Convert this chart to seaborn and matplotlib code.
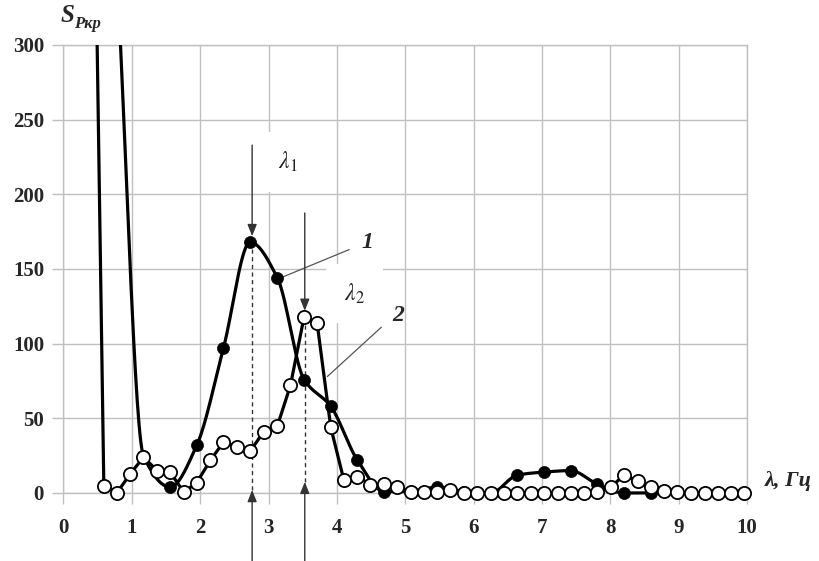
import numpy as np
import pandas as pd
import matplotlib
matplotlib.use("Agg")
import matplotlib.pyplot as plt
import seaborn as sns
from matplotlib.patches import Rectangle

# ---------------- data ----------------
# curve 1 (filled markers)
s1_freq = [0.78, 1.17, 1.56, 1.95, 2.34, 2.73, 3.13, 3.52, 3.91, 4.30, 4.69,
           5.08, 5.47, 5.86, 6.25, 6.64, 7.03, 7.42, 7.81, 8.20, 8.59, 8.98]
s1_vals = [350, 25, 4, 32, 97, 168, 144, 76, 58, 22, 1,
           1, 4, 1, 0, 12, 14, 15, 6, 0, 0, 1]

# curve 2 (open markers)
s2_freq = [0.39, 0.59, 0.78, 0.98, 1.17, 1.37, 1.56, 1.76, 1.95, 2.15,
           2.34, 2.54, 2.73, 2.93, 3.13, 3.32, 3.52, 3.71, 3.91, 4.10,
           4.30, 4.49, 4.69, 4.88, 5.08, 5.27, 5.47, 5.66, 5.86, 6.05,
           6.25, 6.45, 6.64, 6.84, 7.03, 7.23, 7.42, 7.62, 7.81, 8.01,
           8.20, 8.40, 8.59, 8.79, 8.98, 9.18, 9.38, 9.57, 9.77, 9.96]
s2_vals = [610, 5, 0, 13, 24, 15, 14, 0.5, 7, 22,
           34, 31, 28, 41, 45, 72, 118, 114, 44, 9,
           11, 5.5, 6, 4, 1, 0.5, 1, 2, 0, 0,
           0, 0, 0, 0, 0, 0, 0, 0, 0.5, 4,
           12, 8, 4, 1.5, 0.5, 0, 0, 0, 0, 0]

lambda1, lambda1_val = 2.76, 168
lambda2, lambda2_val = 3.53, 118

x_ticks = list(range(0, 11))
y_ticks = [0, 50, 100, 150, 200, 250, 300]

df1 = pd.DataFrame({"f": s1_freq, "S": s1_vals})
df2 = pd.DataFrame({"f": s2_freq, "S": s2_vals})


def pchip_curve(x, y, n=30):
    """Monotone (Fritsch-Carlson) cubic drawn through the points, for a smooth line."""
    x = np.asarray(x, float)
    y = np.asarray(y, float)
    h = np.diff(x)
    m = np.diff(y) / h
    d = np.zeros_like(y)
    for i in range(1, len(y) - 1):
        if m[i - 1] * m[i] > 0:
            w1 = 2 * h[i] + h[i - 1]
            w2 = h[i] + 2 * h[i - 1]
            d[i] = (w1 + w2) / (w1 / m[i - 1] + w2 / m[i])
        else:
            d[i] = 0.0
    d[0] = m[0]
    d[-1] = m[-1]
    xs, ys = [], []
    t = np.linspace(0, 1, n, endpoint=False)
    for i in range(len(h)):
        h00 = 2 * t ** 3 - 3 * t ** 2 + 1
        h10 = t ** 3 - 2 * t ** 2 + t
        h01 = -2 * t ** 3 + 3 * t ** 2
        h11 = t ** 3 - t ** 2
        xs.extend(x[i] + t * h[i])
        ys.extend(h00 * y[i] + h10 * h[i] * d[i] + h01 * y[i + 1] + h11 * h[i] * d[i + 1])
    xs.append(x[-1]); ys.append(y[-1])
    return np.array(xs), np.array(ys)


# ---------------- style ----------------
sns.set_theme(style="white")
plt.rcParams["font.family"] = ["Liberation Serif", "DejaVu Serif"]
plt.rcParams["mathtext.fontset"] = "stix"

fig = plt.figure(figsize=(8.2, 5.61), dpi=100)
ax = fig.add_axes([63.5 / 820, 1 - 493 / 561, (747 - 63.5) / 820, (493 - 45) / 561])

grid_c = "#c0c0c0"
ax.set_xlim(0, 10)
ax.set_ylim(0, 300)
ax.set_xticks(x_ticks)
ax.set_yticks(y_ticks)
ax.grid(True, color=grid_c, lw=1.0)
ax.set_axisbelow(True)
for sp in ax.spines.values():
    sp.set_color(grid_c)
    sp.set_linewidth(1.0)
ax.tick_params(axis="both", which="both", length=8, width=1.0, color=grid_c,
               labelsize=15, bottom=True, left=True)
ax.tick_params(axis="x", pad=10)
ax.tick_params(axis="y", pad=6)
for lab in ax.get_xticklabels() + ax.get_yticklabels():
    lab.set_fontweight("bold")

clip_rect = Rectangle((-0.05, -0.1), 1.1, 1.1, transform=ax.transAxes,
                      facecolor="none", edgecolor="none")
ax.add_patch(clip_rect)

# curve 1: smoothed line with filled markers (drawn first, below curve 2)
sx, sy = pchip_curve(df1["f"], df1["S"])
ax.plot(sx, sy, color="black", lw=2.3, zorder=3)
sns.scatterplot(data=df1, x="f", y="S", ax=ax, color="black", s=75,
                edgecolor="black", linewidth=0.5, zorder=4)
# curve 2: straight segments with open markers
sns.lineplot(data=df2, x="f", y="S", ax=ax, color="black", lw=2.3,
             marker="o", markersize=9.5, markerfacecolor="white",
             markeredgecolor="black", markeredgewidth=1.3, zorder=5)
for art in ax.lines + ax.collections:
    art.set_clip_path(clip_rect)
ax.set_xlabel("")
ax.set_ylabel("")

# ---------------- annotations ----------------
arr = dict(arrowstyle="-|>,head_length=0.5,head_width=0.2", color="#333333",
           lw=1.0, mutation_scale=14, shrinkA=0, shrinkB=0)
ax.annotate("", xy=(lambda1, lambda1_val + 4), xytext=(lambda1, 233), arrowprops=arr)
ax.annotate("", xy=(lambda2, lambda2_val + 4), xytext=(lambda2, 187.5), arrowprops=arr)
a = ax.annotate("", xy=(lambda1, 2), xytext=(lambda1, -46), arrowprops=arr,
                annotation_clip=False)
a.arrow_patch.set_clip_on(False)
b = ax.annotate("", xy=(lambda2, 7.5), xytext=(lambda2, -46), arrowprops=arr,
                annotation_clip=False)
b.arrow_patch.set_clip_on(False)
ax.plot([lambda1, lambda1], [2, lambda1_val - 3], color="#333333", lw=1.0,
        dashes=(3, 2.5), zorder=2)
ax.plot([lambda2, lambda2], [7.5, lambda2_val - 4], color="#333333", lw=1.0,
        dashes=(3, 2.5), zorder=2)

box = dict(boxstyle="square,pad=0.75", facecolor="white", edgecolor="none")
ax.text(3.28, 221.5, r"$\lambda_{\mathit{1}}$", fontsize=17, ha="center", va="center",
        bbox=box, zorder=2.5, color="#222222")
ax.text(4.26, 133.6, r"$\lambda_{\mathit{2}}$", fontsize=17, ha="center", va="center",
        bbox=box, zorder=2.5, color="#222222")

ax.plot([3.12, 4.18], [143, 163], color="#555555", lw=0.9, zorder=2.6)
ax.plot([3.86, 4.65], [78, 111], color="#555555", lw=0.9, zorder=2.6)
ax.text(4.45, 168, "1", fontsize=17, fontweight="bold", fontstyle="italic",
        ha="center", va="center")
ax.text(4.90, 119, "2", fontsize=17, fontweight="bold", fontstyle="italic",
        ha="center", va="center")

ax.text(10.26, 8, "λ, Гц", fontsize=16, fontweight="bold", fontstyle="italic",
        ha="left", va="center", clip_on=False)
fig.text(61 / 820, 1 - 16 / 561, "S", fontsize=18, fontweight="bold",
         fontstyle="italic", ha="left", va="center")
fig.text(74 / 820, 1 - 24 / 561, "Ркр", fontsize=12, fontweight="bold",
         fontstyle="italic", ha="left", va="center")

fig.savefig("out.png", dpi=100)
